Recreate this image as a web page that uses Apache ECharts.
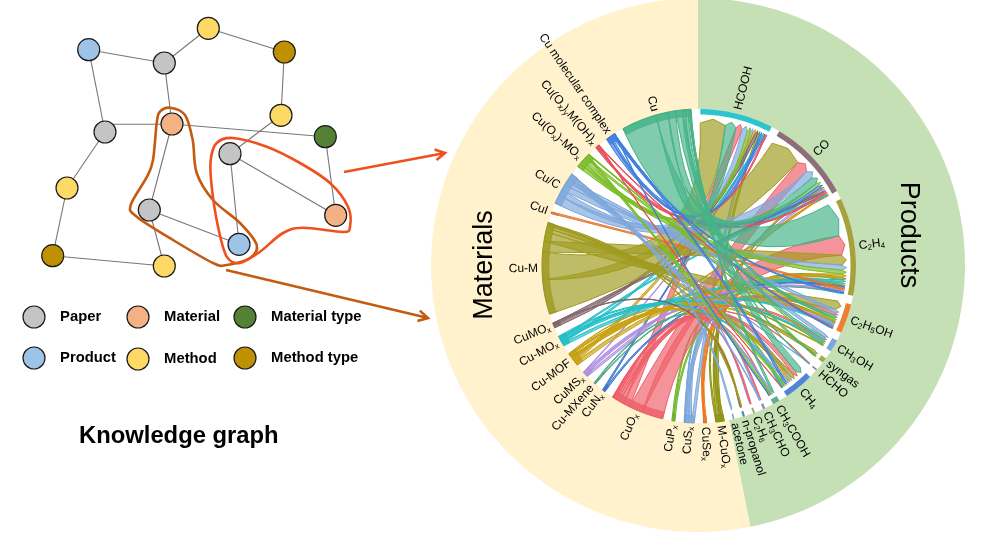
<!DOCTYPE html>
<html>
<head>
<meta charset="utf-8">
<style>html,body{margin:0;padding:0;background:#fff}#c{width:995px;height:533px}</style>
<script src="https://cdn.jsdelivr.net/npm/echarts@6/dist/echarts.min.js"></script>
</head>
<body>
<div id="c"></div>
<script>
// ---------- DATA ----------
const productNames = ['HCOOH','CO','C_2H_4','C_2H_5OH','CH_3OH','syngas','HCHO','CH_4','CH_3COOH','CH_3CHO','C_2H_6','n-propanol','acetone'];
const materialNames = ['M-CuO_x','CuSe_x','CuS_x','CuP_x','CuO_x','CuN_x','Cu-MXene','CuMS_x','Cu-MOF','Cu-MO_x','CuMO_x','Cu-M','CuI','Cu/C','Cu(O_x)-MO_x','Cu(O_x)_yM(OH)_x','Cu molecular complex','Cu'];
// rows follow materialNames, columns follow productNames
const flowM_CuOx  = [8,8,10,5,0,0,0,0,0,0,0,0,0];
const flowCuSex   = [0,2,5,4,0,0,0,0,0,0,0,0,0];
const flowCuSx    = [10,0,8,5,0,0,0,10,0,2,2,0,0];
const flowCuPx    = [0,0,6,0,0,0,0,5,0,0,0,0,0];
const flowCuOx    = [25,50,78,10,7,0,2,15,3,4,5,0,0];
const flowCuNx    = [5,0,6,0,0,0,0,0,0,0,0,0,0];
const flowMXene   = [0,0,3,0,0,0,0,3,0,0,0,0,0];
const flowCuMSx   = [3,8,5,5,0,0,0,0,0,0,0,0,0];
const flowMOF     = [10,5,13,6,4,4,0,8,0,0,0,2,0];
const flowCu_MOx  = [7,5,10,5,7,0,0,5,0,0,0,0,0];
const flowCuMOx   = [10,7,0,0,0,0,0,0,0,0,0,2,0];
const flowCu_M    = [100,128,40,35,3,10,0,14,4,0,0,4,0];
const flowCuI     = [0,0,6,0,0,0,0,0,0,0,0,0,0];
const flowCuC     = [22,33,20,12,12,0,2,8,6,3,0,0,5];
const flowOxMOx   = [12,13,15,7,2,2,0,6,4,0,0,0,0];
const flowOxOH    = [5,6,0,3,0,0,0,2,0,0,0,0,0];
const flowComplex = [8,12,5,2,0,0,0,8,2,0,0,0,0];
const flowCu      = [44,28,130,10,10,3,2,25,7,0,0,0,0];
const flowRows = [flowM_CuOx,flowCuSex,flowCuSx,flowCuPx,flowCuOx,flowCuNx,flowMXene,flowCuMSx,flowMOF,flowCu_MOx,flowCuMOx,flowCu_M,flowCuI,flowCuC,flowOxMOx,flowOxOH,flowComplex,flowCu];

const backgroundShares = [{name:'Products',value:168.7},{name:'Materials',value:191.3}];

const nodeNames = ['A','B','C','D','E','F','G','H','I','J','K','L','M','N','O'];
const nodeX = [88.7,164.3,208.3,284.3,281,325.3,105,172,230,67,149.3,239,335.7,52.7,164.3];
const nodeY = [49.7,63,28.3,52,115.3,136.7,132,124,153.7,188,210,244.3,215.3,255.7,266];
const nodeKinds = ['Product','Paper','Method','Method type','Method','Material type','Paper','Material','Paper','Method','Paper','Product','Material','Method type','Method'];
const edges = [['A','B'],['B','C'],['C','D'],['D','E'],['E','I'],['A','G'],['B','H'],['H','F'],['G','J'],['J','N'],['N','O'],['H','K'],['K','O'],['K','L'],['I','L'],['I','M'],['F','M']];
const levelEdge = [[113,124.3],[162,124.3]];

const legendNames = ['Paper','Material','Material type','Product','Method','Method type'];
const legendX = [34,138,245,34,138,245];
const legendY = [317,317,317,358,359,358];

const brownLoop = [[170,107.7],[185,115],[192.7,140],[196.7,173],[213,200],[240,223],[256.7,245],[250,258],[226.7,265],[213,263],[173,240],[136.7,216.7],[130.7,205],[147,176.7],[153,160],[156.7,123],[160,111.7]];
const redLoop = [[233,138],[266.7,146.7],[300,163],[330,183],[348,206.7],[350,226.7],[343,232],[303,227.7],[283,233],[260,251.7],[240,263],[226.7,256.7],[218,226.7],[211.7,186.7],[210.7,160],[216.7,143]];
const redArrow = [[344,172],[445,153]];
const brownArrow = [[226,270],[428,318]];

// ---------- STYLES ----------
const kindColor = {'Paper':'#C4C4C4','Material':'#F4B183','Material type':'#548235','Product':'#9DC3E6','Method':'#FFD966','Method type':'#BF9000'};
const productColors = ['#2EC4CF','#8C6F78','#A5A23E','#F08030','#7FA6D8','#99B050','#9080B0','#4F85D8','#5FAF8F','#9E8AB8','#A8A070','#4F8FA8','#7A8FD0'];
const materialColors = ['#8F9410','#F07A1E','#7FA8DC','#6FB82C','#F0606A','#3A78D0','#4CA88A','#B08FE0','#C9A214','#22BFC8','#80646A','#A09C20','#E8762F','#7FA8DC','#7DBE2A','#E8505C','#3F7FE0','#45B488'];
const RED='#F0501E', BROWN='#C55A11';
const FONT='Arial, "Liberation Sans", sans-serif';

// ---------- CHORD LAYOUT (degrees clockwise from top, derived from the flow table) ----------
const GAP_P=3.2, GAP_M=3.4, START=0.5;
const prodTotals=productNames.map((_,j)=>flowRows.reduce((s,r)=>s+r[j],0));
const matTotals=flowRows.map(r=>r.reduce((a,b)=>a+b,0));
const grand=prodTotals.reduce((a,b)=>a+b,0)+matTotals.reduce((a,b)=>a+b,0);
const unit=(360-productNames.length*GAP_P-materialNames.length*GAP_M)/grand;
const sectors=[];
let cur=START;
productNames.forEach((nm,j)=>{const w=prodTotals[j]*unit;sectors.push({name:nm,a:cur,b:cur+w,color:productColors[j],isMat:false});cur+=w+GAP_P;});
materialNames.forEach((nm,i)=>{const w=matTotals[i]*unit;sectors.push({name:nm,a:cur,b:cur+w,color:materialColors[i],isMat:true});cur+=w+GAP_M;});
const pSec=sectors.slice(0,productNames.length), mSec=sectors.slice(productNames.length);
const ribbons=[];
flowRows.forEach((row,i)=>row.forEach((v,j)=>{if(v>0)ribbons.push({i,j,v});}));
function allot(list,secs,key,lo,hi){
  secs.forEach((s,k)=>{
    let c=s.a;
    list.filter(f=>f[key]===k).sort((x,y)=>y.v-x.v).forEach(f=>{f[lo]=c;c+=f.v*unit;f[hi]=c;});
  });
}
allot(ribbons,mSec,'i','m1','m2');
allot(ribbons,pSec,'j','p1','p2');
ribbons.sort((x,y)=>x.i-y.i||y.v-x.v);

function arcPts(api,r,a,b){
  const out=[],steps=Math.max(1,Math.ceil(Math.abs(b-a)/1.5));
  for(let k=0;k<=steps;k++){out.push(api.coord([r,a+(b-a)*k/steps]));}
  return out;
}
function ctrl(api,a,b){
  let d=((b-a)%360+360)%360, mid=a+d/2;
  if(d>180){d=360-d;mid=b+d/2;}
  let rc=-55+75*d/180;
  if(rc<0){rc=-rc;mid+=180;}
  return api.coord([rc,mid]);
}
function renderRibbon(params,api){
  const f=ribbons[params.dataIndex];
  const R1=157,Rc=143,Rt=147.5;
  const pts=arcPts(api,R1,f.m1,f.m2);
  let d='M'+pts.map(p=>p[0].toFixed(2)+' '+p[1].toFixed(2)).join('L');
  const c1=ctrl(api,f.m2,f.p1),c2=ctrl(api,f.p2,f.m1);
  const p1=api.coord([Rc,f.p1]),tip=api.coord([Rt,(f.p1+f.p2)/2]),p2=api.coord([Rc,f.p2]),m1=pts[0],m2=pts[pts.length-1];
  // keep a neck on each ribbon: separate the two edge curves by a share of the ribbon's width
  const ux=tip[0]-(m1[0]+m2[0])/2,uy=tip[1]-(m1[1]+m2[1])/2,ul=Math.hypot(ux,uy)||1;
  const nx=-uy/ul,ny=ux/ul;
  const side=Math.sign(nx*(m2[0]-m1[0])+ny*(m2[1]-m1[1]))||1;
  const shift=side*Math.min(8,0.35*Math.hypot(m2[0]-m1[0],m2[1]-m1[1]));
  c1[0]+=nx*shift;c1[1]+=ny*shift;c2[0]-=nx*shift;c2[1]-=ny*shift;
  d+=`Q${c1[0]} ${c1[1]} ${p1[0]} ${p1[1]}L${tip[0]} ${tip[1]}L${p2[0]} ${p2[1]}Q${c2[0]} ${c2[1]} ${m1[0]} ${m1[1]}Z`;
  const col=materialColors[f.i];
  return {type:'path',shape:{pathData:d},style:{fill:echarts.color.modifyAlpha(col,0.68),stroke:col,lineWidth:1}};
}
function renderRing(params,api){
  const s=sectors[params.dataIndex];
  const ri=s.isMat?150:151.5;
  const o=arcPts(api,157,s.a,s.b),q=arcPts(api,ri,s.b,s.a);
  const d='M'+o.concat(q).map(p=>p[0].toFixed(2)+' '+p[1].toFixed(2)).join('L')+'Z';
  return {type:'path',shape:{pathData:d},style:{fill:echarts.color.modifyAlpha(s.color,s.isMat?0.85:1),stroke:echarts.color.modifyAlpha('#555555',s.isMat?0.25:0),lineWidth:0.5}};
}
function markup(t){
  return t.split(/(_[a-z0-9])/).filter(x=>x).map(x=>x[0]==='_'?`{sub|${x[1]}}`:`{n|${x}}`).join('');
}
const labelRich={n:{fontSize:12,fontFamily:FONT,fill:'#000',lineHeight:14},sub:{fontSize:8,fontFamily:FONT,fill:'#000',lineHeight:9,verticalAlign:'bottom',padding:[5,0,0,0]}};
function renderLabel(params,api){
  const s=sectors[params.dataIndex];
  const th=(s.a+s.b)/2, p=api.coord([161,th]);
  const phi=(90-th)*Math.PI/180, out=th<180;
  return {type:'text',x:p[0],y:p[1],rotation:out?phi:phi+Math.PI,style:{text:markup(s.name),rich:labelRich,align:out?'left':'right',verticalAlign:'middle',fontFamily:FONT,fontSize:12,fill:'#000'}};
}
function renderLoop(params,api){
  const pts=(params.dataIndex===0?brownLoop:redLoop).map(p=>api.coord(p));
  const m=pts.length;
  let d=`M${pts[0][0]} ${pts[0][1]}`;
  for(let k=0;k<m;k++){
    const p0=pts[(k-1+m)%m],p1=pts[k],p2=pts[(k+1)%m],p3=pts[(k+2)%m];
    d+=`C${p1[0]+(p2[0]-p0[0])/6} ${p1[1]+(p2[1]-p0[1])/6} ${p2[0]-(p3[0]-p1[0])/6} ${p2[1]-(p3[1]-p1[1])/6} ${p2[0]} ${p2[1]}`;
  }
  return {type:'path',shape:{pathData:d+'Z'},style:{fill:'none',stroke:params.dataIndex===0?BROWN:RED,lineWidth:2.6}};
}
function renderArrow(params,api){
  const seg=params.dataIndex===0?redArrow:brownArrow, a=api.coord(seg[0]), b=api.coord(seg[1]);
  const ang=Math.atan2(b[1]-a[1],b[0]-a[0]),L=11,w=0.5;
  const h1=[b[0]-L*Math.cos(ang-w),b[1]-L*Math.sin(ang-w)],h2=[b[0]-L*Math.cos(ang+w),b[1]-L*Math.sin(ang+w)];
  const d=`M${a[0]} ${a[1]}L${b[0]} ${b[1]}M${h1[0]} ${h1[1]}L${b[0]} ${b[1]}L${h2[0]} ${h2[1]}`;
  return {type:'path',shape:{pathData:d},style:{fill:'none',stroke:params.dataIndex===0?RED:BROWN,lineWidth:2.6}};
}

const chart=echarts.init(document.getElementById('c'),null,{width:995,height:533});
chart.setOption({
  animation:false,
  backgroundColor:'#fff',
  grid:{left:0,right:0,top:0,bottom:0},
  xAxis:{type:'value',min:0,max:995,show:false},
  yAxis:{type:'value',min:0,max:533,inverse:true,show:false},
  polar:{center:[699,266],radius:157},
  radiusAxis:{type:'value',min:0,max:157,show:false},
  angleAxis:{type:'value',min:0,max:360,startAngle:90,clockwise:true,show:false},
  graphic:[
    {type:'text',z:100,x:485,y:265,rotation:Math.PI/2,style:{text:'Materials',font:'27px '+FONT,fill:'#000',align:'center',verticalAlign:'middle'}},
    {type:'text',z:100,x:908,y:235,rotation:-Math.PI/2,style:{text:'Products',font:'27px '+FONT,fill:'#000',align:'center',verticalAlign:'middle'}},
    {type:'text',z:100,x:79,y:436,style:{text:'Knowledge graph',font:'bold 23.8px '+FONT,fill:'#000',align:'left',verticalAlign:'middle'}}
  ],
  series:[
    {type:'pie',silent:true,z:0,center:[698,265],radius:[0,267],startAngle:90,clockwise:true,label:{show:false},labelLine:{show:false},
      data:backgroundShares,itemStyle:{borderWidth:0},color:['#C5E0B4','#FFF2CC']},
    {type:'pie',silent:true,z:1,center:[699,266],radius:[0,157],label:{show:false},labelLine:{show:false},data:[{name:'disk',value:1}],color:['#ffffff']},
    {type:'custom',z:3,coordinateSystem:'polar',renderItem:renderRibbon,silent:true,data:ribbons.map(f=>[157,(f.m1+f.m2)/2])},
    {type:'custom',z:4,coordinateSystem:'polar',renderItem:renderRing,silent:true,data:sectors.map(s=>[157,(s.a+s.b)/2])},
    {type:'custom',z:5,coordinateSystem:'polar',renderItem:renderLabel,silent:true,data:sectors.map(s=>[161,(s.a+s.b)/2])},
    {type:'line',z:5,coordinateSystem:'cartesian2d',silent:true,showSymbol:false,data:levelEdge,lineStyle:{color:'#777',width:1.1}},
    {type:'graph',z:6,coordinateSystem:'cartesian2d',layout:'none',silent:true,symbol:'circle',symbolSize:22,
      data:nodeNames.map((nm,k)=>({name:nm,value:[nodeX[k],nodeY[k]],itemStyle:{color:kindColor[nodeKinds[k]],borderColor:'#1a1a1a',borderWidth:1.2}})),
      links:edges.map(e=>({source:e[0],target:e[1]})),
      lineStyle:{color:'#777',width:1.1,opacity:1,curveness:0},label:{show:false}},
    {type:'custom',z:7,coordinateSystem:'cartesian2d',renderItem:renderLoop,silent:true,data:[[brownLoop[0][0],brownLoop[0][1]],[redLoop[0][0],redLoop[0][1]]]},
    {type:'custom',z:7,coordinateSystem:'cartesian2d',renderItem:renderArrow,silent:true,data:[redArrow[0],brownArrow[0]]},
    {type:'scatter',z:8,coordinateSystem:'cartesian2d',silent:true,symbol:'circle',symbolSize:22,
      data:legendNames.map((nm,k)=>({name:nm,value:[legendX[k],legendY[k]],itemStyle:{color:kindColor[nm],borderColor:'#1a1a1a',borderWidth:1.2,opacity:1}})),
      label:{show:true,position:'right',distance:14.5,formatter:'{b}',color:'#000',fontWeight:'bold',fontSize:14.8,fontFamily:FONT}}
  ]
});
</script>
</body>
</html>
